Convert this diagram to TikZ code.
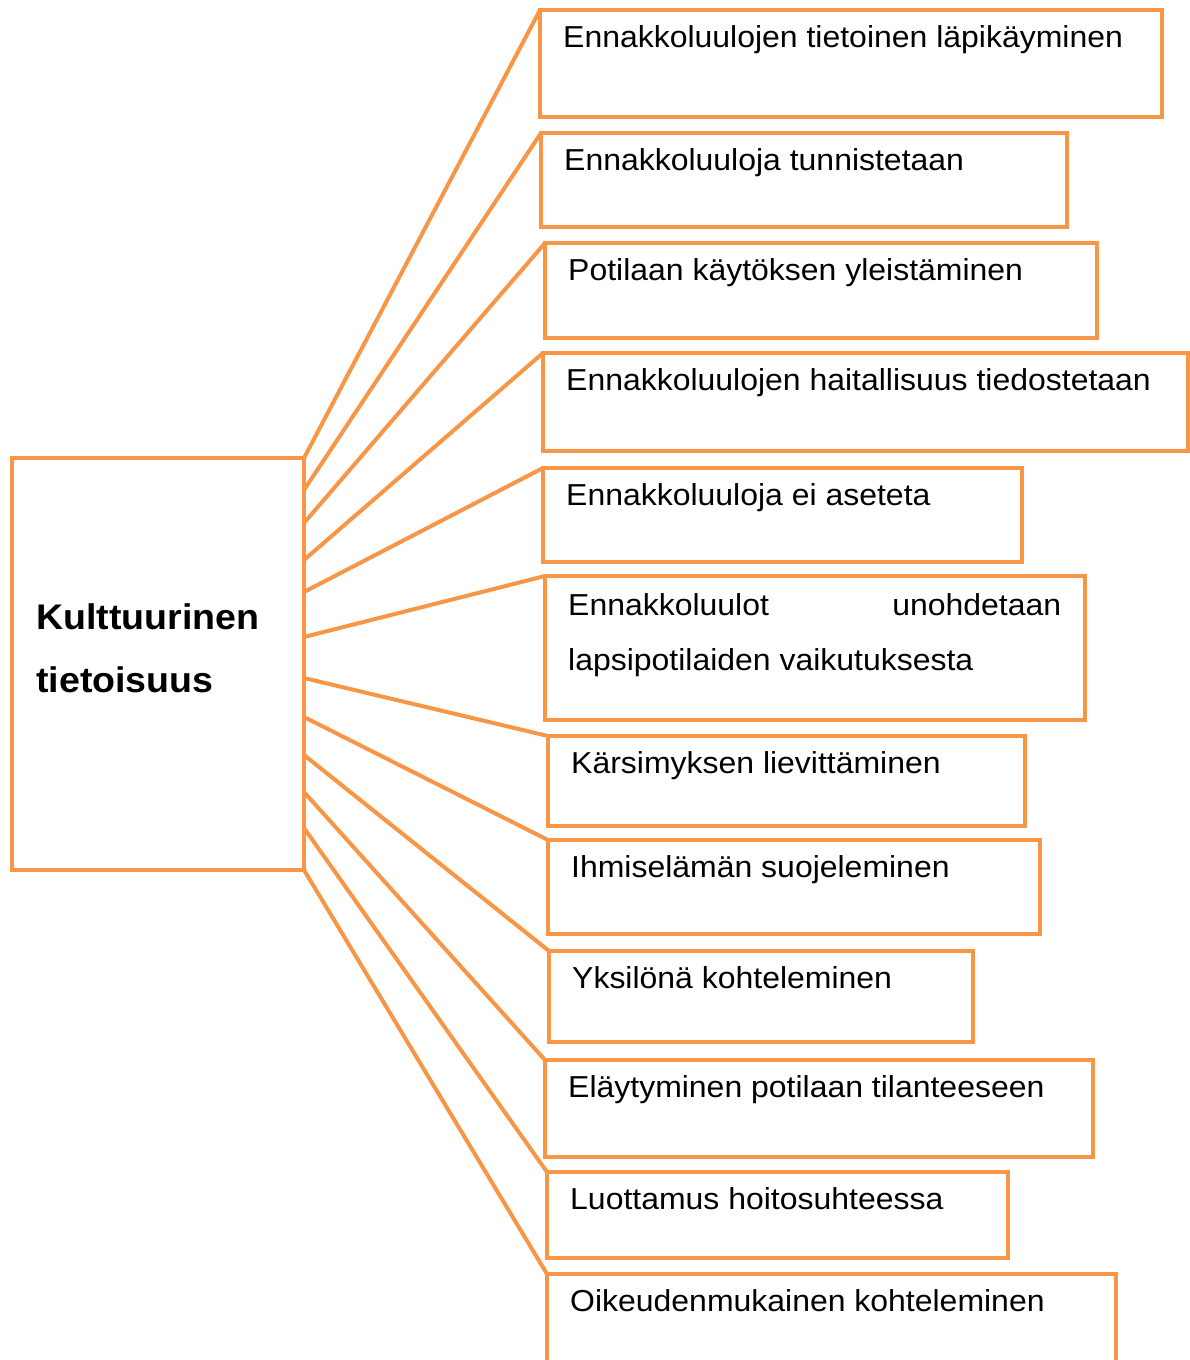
\documentclass[tikz,border=0pt]{standalone}
\usepackage{fontspec}
\setmainfont{Liberation Sans}[FakeStretch=1.055]
\definecolor{accent}{HTML}{F79646}

% one framed entry: name, left, top, right, bottom, text
\newcommand\itembox[6]{%
  \node[frame, minimum width=#4pt-#2pt, minimum height=#5pt-#3pt] (#1) at (#2,#3) {};
  \node[item] (#1t) at (#2+23,#3+37) {#6};}

\begin{document}
\begin{tikzpicture}[x=1pt,y=-1pt,
  frame/.style={draw=accent, line width=4pt, inner sep=0pt, outer sep=0pt, anchor=north west},
  link/.style={draw=accent, line width=4pt},
  item/.style={inner sep=0pt, anchor=base west, font=\fontsize{30.3}{36}\selectfont},
  head/.style={inner sep=0pt, anchor=base west, font=\fontsize{35.6}{42}\selectfont\bfseries}]
\useasboundingbox (0,0) rectangle (1190,1360);

% central concept
\node[frame, minimum width=292pt, minimum height=412pt] (L) at (12,458) {};
\node[head] (h1) at (36,629) {Kulttuurinen};
\node[head] (h2) at (36,692) {tietoisuus};

% entries
\itembox{b1}{540}{10}{1162}{117}{Ennakkoluulojen tietoinen läpikäyminen}
\itembox{b2}{541}{133}{1067}{227}{Ennakkoluuloja tunnistetaan}
\itembox{b3}{545}{243}{1097}{338}{Potilaan käytöksen yleistäminen}
\itembox{b4}{543}{353}{1188}{451}{Ennakkoluulojen haitallisuus tiedostetaan}
\itembox{b5}{543}{468}{1022}{562}{Ennakkoluuloja ei aseteta}
\node[frame, minimum width=540pt, minimum height=144pt] (b6) at (545,576) {};
\node[item] (b6t) at (568,615) {\makebox[493pt][l]{Ennakkoluulot\hfill unohdetaan}};
\node[item] (b6u) at (568,670) {lapsipotilaiden vaikutuksesta};
\itembox{b7}{548}{736}{1025}{826}{Kärsimyksen lievittäminen}
\itembox{b8}{548}{840}{1040}{934}{Ihmiselämän suojeleminen}
\itembox{b9}{549}{951}{973}{1042}{Yksilönä kohteleminen}
\itembox{b10}{545}{1060}{1093}{1157}{Eläytyminen potilaan tilanteeseen}
\itembox{b11}{547}{1172}{1008}{1258}{Luottamus hoitosuhteessa}
\itembox{b12}{547}{1274}{1116}{1400}{Oikeudenmukainen kohteleminen}

% start points on the right side of the central box
\coordinate (s2) at (304,490);
\coordinate (s3) at (304,523);
\coordinate (s4) at (304,560);
\coordinate (s5) at (304,592);
\coordinate (s6) at (304,637);
\coordinate (s7) at (304,678);
\coordinate (s8) at (304,717);
\coordinate (s9) at (304,755);
\coordinate (s10) at (304,792);
\coordinate (s11) at (304,828);

% connectors
\draw[link] (L.north east) -- (b1.north west);
\foreach \i in {2,...,11} \draw[link] (s\i) -- (b\i.north west);
\draw[link] (L.south east) -- (b12.north west);
\end{tikzpicture}
\end{document}
